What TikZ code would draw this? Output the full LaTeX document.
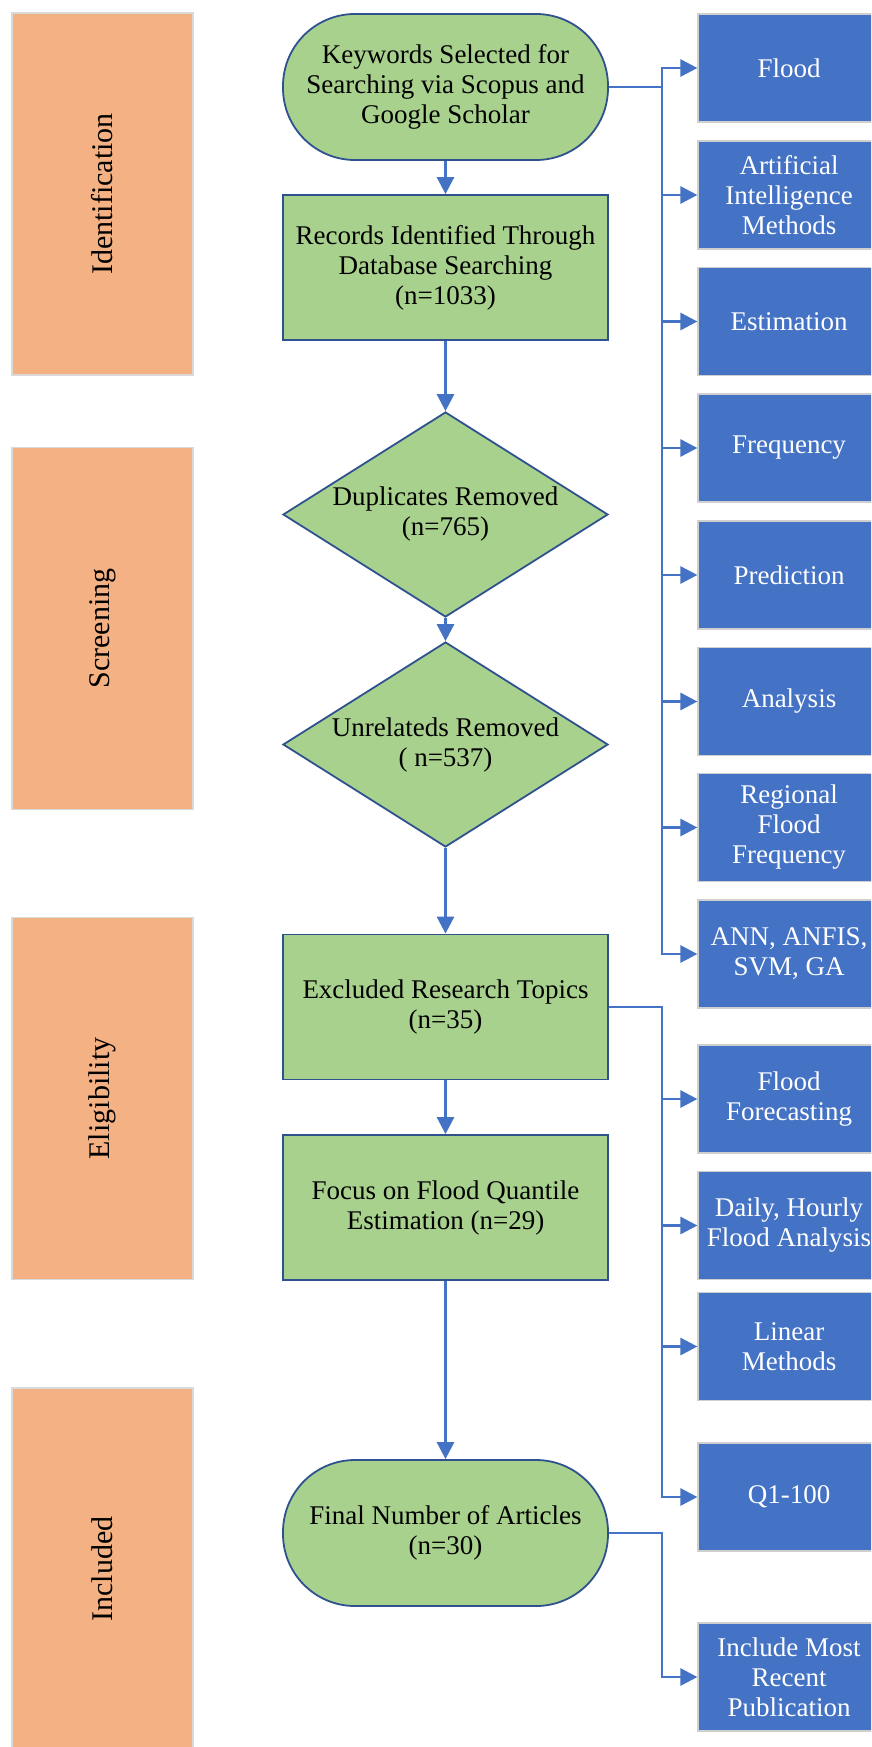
\documentclass[tikz,border=0pt]{standalone}
\usepackage{fontspec}
\setmainfont{Liberation Serif}
\usetikzlibrary{shapes.geometric,arrows.meta}
\definecolor{phasefill}{HTML}{F4B183}
\definecolor{phaseedge}{HTML}{D9D9D9}
\definecolor{greenfill}{HTML}{A9D18E}
\definecolor{greenedge}{HTML}{2F528F}
\definecolor{bluefill}{HTML}{4472C4}
\definecolor{blueedge}{HTML}{CFCFCF}
\definecolor{conncol}{HTML}{4472C4}
\begin{document}
\begin{tikzpicture}[x=1pt,y=-1pt,
  phasebox/.style={draw=phaseedge, fill=phasefill, line width=1.2pt, minimum width=181pt, minimum height=362pt, inner sep=0pt},
  phaselabel/.style={rotate=90, font=\fontsize{30}{34}\selectfont, text=black},
  greenbase/.style={draw=greenedge, fill=greenfill, line width=1.8pt, align=center, font=\fontsize{27}{30}\selectfont, inner sep=0pt},
  terminal/.style={greenbase, rounded corners=72pt, minimum width=325pt, minimum height=146pt},
  process/.style={greenbase, rectangle, minimum width=325pt, minimum height=145pt},
  decision/.style={greenbase, diamond, minimum width=325pt, minimum height=205pt},
  dlabel/.style={align=center, font=\fontsize{27}{30}\selectfont},
  topic/.style={draw=blueedge, fill=bluefill, line width=1.2pt, minimum width=182pt, minimum height=108pt, inner sep=0pt, align=center, text=white, font=\fontsize{27}{30}\selectfont},
  arr/.style={draw=conncol, line width=2.8pt, -{Triangle[length=17pt,width=17pt]}}
]
\useasboundingbox (0,0) rectangle (871,1747);
\clip (0,0) rectangle (871,1747);
\fill[white] (0,0) rectangle (871,1747);

% phases
\node[phasebox, label={[phaselabel]center:Identification}] (ph1) at (102.5,194) {};
\node[phasebox, label={[phaselabel]center:Screening}] (ph2) at (102.5,628.5) {};
\node[phasebox, label={[phaselabel]center:Eligibility}] (ph3) at (102.5,1098.5) {};
\node[phasebox, label={[phaselabel]center:Included}] (ph4) at (102.5,1569) {};

% main column
\node[terminal] (kw) at (445.5,87) {Keywords Selected for\\Searching via Scopus and\\Google Scholar};
\node[process] (rec) at (445.5,267.5) {Records Identified Through\\Database Searching\\(n=1033)};
\node[decision, label={[dlabel]center:Duplicates Removed\\(n=765)}] (dup) at (445.5,514.5) {};
\node[decision, label={[dlabel]center:Unrelateds Removed\\( n=537)}] (unr) at (445.5,744.5) {};
\node[process] (exc) at (445.5,1007) {Excluded Research Topics\\(n=35)};
\node[process] (foc) at (445.5,1207.5) {Focus on Flood Quantile\\Estimation (n=29)};
\node[terminal] (fin) at (445.5,1533) {Final Number of Articles\\(n=30)};

% topics
\node[topic] (t1) at (789,68) {Flood};
\node[topic] (t2) at (789,195) {Artificial\\Intelligence\\Methods};
\node[topic] (t3) at (789,321.5) {Estimation};
\node[topic] (t4) at (789,448) {Frequency};
\node[topic] (t5) at (789,575) {Prediction};
\node[topic] (t6) at (789,701.5) {Analysis};
\node[topic] (t7) at (789,827.5) {Regional\\Flood\\Frequency};
\node[topic] (t8) at (789,954) {ANN, ANFIS,\\SVM, GA};
\node[topic] (t9) at (789,1099) {Flood\\Forecasting};
\node[topic] (t10) at (789,1225.5) {Daily, Hourly\\Flood Analysis};
\node[topic] (t11) at (789,1346.5) {Linear\\Methods};
\node[topic] (t12) at (789,1497) {Q1-100};
\node[topic] (t13) at (789,1677) {Include Most\\Recent\\Publication};

% main flow
\draw[arr] (kw.south) -- (rec.north);
\draw[arr] (rec.south) -- (dup.north);
\draw[arr] (dup.south) -- (unr.north);
\draw[arr] (unr.south) -- (exc.north);
\draw[arr] (exc.south) -- (foc.north);
\draw[arr] (foc.south) -- (fin.north);

% buses
\coordinate (busx) at (662,0);
\foreach \t in {t1,t2,t3,t4,t5,t6,t7,t8}
  \draw[arr] (kw.east) -- (busx|-kw.east) |- (\t.west);
\foreach \t in {t9,t10,t11,t12}
  \draw[arr] (exc.east) -- (busx|-exc.east) |- (\t.west);
\draw[arr] (fin.east) -- (busx|-fin.east) |- (t13.west);
\end{tikzpicture}
\end{document}
